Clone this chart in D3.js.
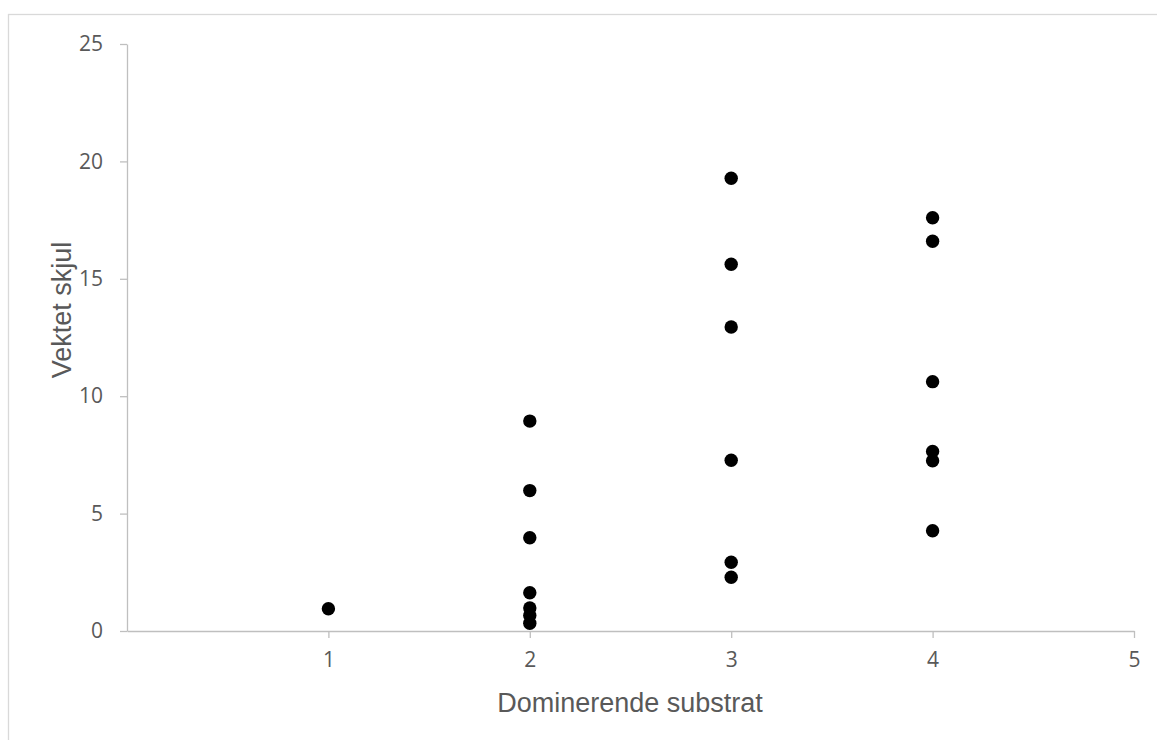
<!DOCTYPE html>
<html><head><meta charset="utf-8">
<script src="https://cdn.jsdelivr.net/npm/d3@7"></script>
<style>body{margin:0;background:#fff}svg{display:block}</style>
</head><body>
<script>
const xValues = [1, 2,2,2,2,2,2,2, 3,3,3,3,3,3, 4,4,4,4,4,4];
const yValues = [0.95, 8.94,5.98,3.97,1.63,0.98,0.66,0.33, 19.28,15.62,12.95,7.27,2.93,2.29, 17.6,16.6,10.62,7.65,7.25,4.27];
const xTicks = [1,2,3,4,5];
const yTicks = [0,5,10,15,20,25];
const xTitle = "Dominerende substrat";
const yTitle = "Vektet skjul";

const W = 1157, H = 740;
const svg = d3.select("body").append("svg").attr("width", W).attr("height", H);
svg.append("rect").attr("x", 8.5).attr("y", 14.5).attr("width", W + 10).attr("height", H + 10)
  .attr("fill", "#fff").attr("stroke", "#d9d9d9").attr("stroke-width", 1.3);

const x = d3.scaleLinear().domain([0, 5]).range([127, 1134]);
const y = d3.scaleLinear().domain([0, 25]).range([631, 44]);

const tickFont = "'Open Sans', sans-serif";
const gx = svg.append("g").attr("transform", `translate(0,${y(0)})`)
  .call(d3.axisBottom(x).tickValues(xTicks).tickFormat(d3.format("d")).tickSize(7).tickPadding(14).tickSizeOuter(0));
const gy = svg.append("g").attr("transform", `translate(${x(0)},0)`)
  .call(d3.axisLeft(y).tickValues(yTicks).tickFormat(d3.format("d")).tickSize(7).tickPadding(17).tickSizeOuter(0));
[gx, gy].forEach(g => {
  g.attr("font-size", null).attr("font-family", null);
  g.select(".domain").attr("stroke", "#bfbfbf").attr("stroke-width", 1.3);
  g.selectAll(".tick line").attr("stroke", "#bfbfbf").attr("stroke-width", 1.3);
  g.selectAll(".tick text").attr("fill", "#595959").style("font-family", tickFont).style("font-size", "21px");
});

svg.append("text").attr("x", 630).attr("y", 712).attr("text-anchor", "middle")
  .attr("fill", "#595959").style("font-family", "'Liberation Sans', Arial, sans-serif").style("font-size", "27px")
  .text(xTitle);
svg.append("text").attr("transform", `translate(71,310) rotate(-90)`).attr("text-anchor", "middle")
  .attr("fill", "#595959").style("font-family", "'Liberation Sans', Arial, sans-serif").style("font-size", "27px")
  .text(yTitle);

svg.append("g").selectAll("circle").data(xValues.map((v, i) => [v, yValues[i]])).join("circle")
  .attr("cx", d => x(d[0])).attr("cy", d => y(d[1])).attr("r", 6.7).attr("fill", "#000");
</script>
</body></html>
